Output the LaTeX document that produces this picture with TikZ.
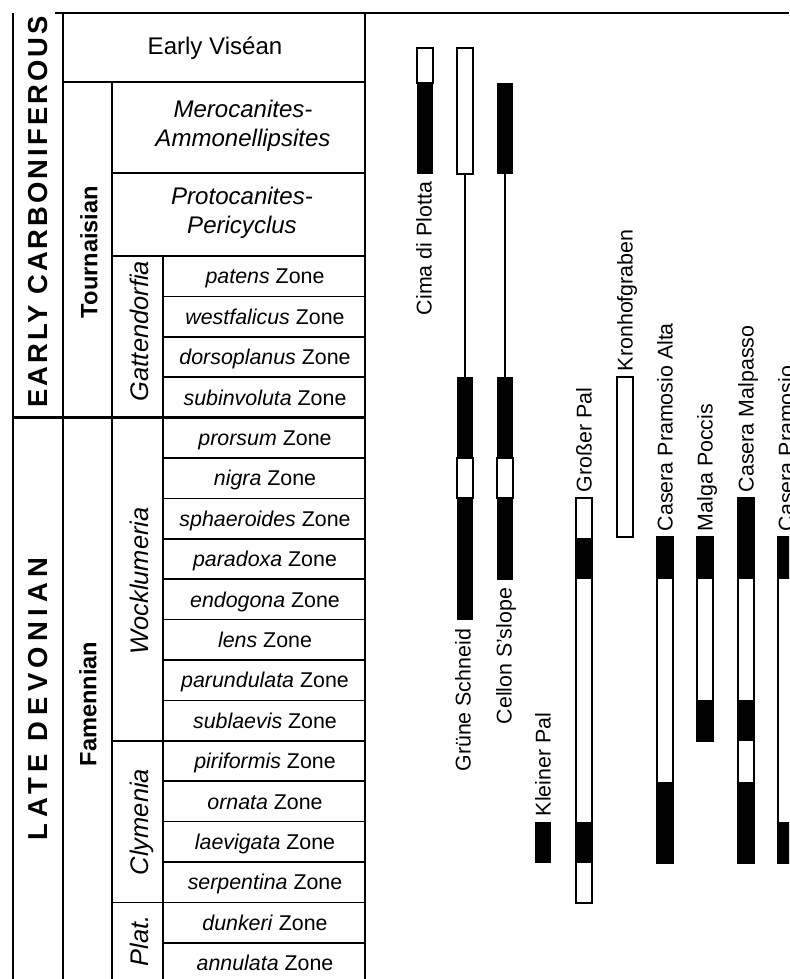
\documentclass[tikz,border=0pt]{standalone}
\usepackage{fontspec}
\setmainfont{Liberation Sans}
\usepackage{tikz}

\tikzset{
  tabline/.style={line width=1.1pt},
  boundline/.style={line width=1.6pt},
  whiteseg/.style={draw=black, fill=white, line width=0.9pt},
  blackseg/.style={fill=black},
  linkline/.style={line width=0.9pt}
}

\begin{document}
\begin{tikzpicture}[x=0.025cm, y=-0.025cm,
  every node/.style={inner sep=0pt, outer sep=0pt},
  zone/.style={font=\fontsize{15.2}{18}\selectfont, text height=10.9pt, text depth=0pt},
  toprow/.style={font=\fontsize{17.1}{20.5}\selectfont, align=center},
  stage/.style={rotate=90, font=\fontsize{16.8}{20}\selectfont\bfseries, text height=12pt, text depth=0pt},
  genus/.style={rotate=90, font=\fontsize{18.1}{21}\selectfont\itshape, text height=13pt, text depth=0pt},
  period/.style={rotate=90, font=\fontsize{19.5}{23}\selectfont\bfseries, text height=14pt, text depth=0pt},
  site/.style={rotate=90, font=\fontsize{15.2}{18}\selectfont, text height=10.9pt, text depth=0pt}]
\useasboundingbox (0,0) rectangle (789,979);
\clip (0,0) rectangle (789,979);

\node[period] (carb) at (38,212) {\addfontfeature{LetterSpace=11}EARLY CARBONIFEROUS};
\node[period] (devon) at (38,699) {\addfontfeature{LetterSpace=20}LATE DEVONIAN};
\node[stage] (tourn) at (89,252) {Tournaisian};
\node[stage] (famen) at (88,704) {Famennian};
\node[genus] (gatt) at (139,331) {Gattendorfia};
\node[genus] (wock) at (139,581) {Wocklumeria};
\node[genus] (clym) at (139,822) {Clymenia};
\node[genus] (plat) at (139,941) {Plat.};

\node[toprow] (visean) at (215,48) {Early Viséan};
\node[toprow, font=\fontsize{17.1}{20.5}\selectfont\itshape] (mero) at (243,126) {Merocanites-\\Ammonellipsites};
\node[toprow, font=\fontsize{17.1}{20.5}\selectfont\itshape] (proto) at (242,213) {Protocanites-\\Pericyclus};

\node[zone] (patens) at (265,276.2) {\textit{patens} Zone};
\node[zone] (westf) at (265,316.6) {\textit{westfalicus} Zone};
\node[zone] (dorso) at (265,357) {\textit{dorsoplanus} Zone};
\node[zone] (subinv) at (265,397.4) {\textit{subinvoluta} Zone};
\node[zone] (prorsum) at (265,437.8) {\textit{prorsum} Zone};
\node[zone] (nigra) at (265,478.2) {\textit{nigra} Zone};
\node[zone] (sphaer) at (265,518.6) {\textit{sphaeroides} Zone};
\node[zone] (parad) at (265,559) {\textit{paradoxa} Zone};
\node[zone] (endog) at (265,599.4) {\textit{endogona} Zone};
\node[zone] (lens) at (265,639.8) {\textit{lens} Zone};
\node[zone] (parund) at (265,680.2) {\textit{parundulata} Zone};
\node[zone] (sublae) at (265,720.6) {\textit{sublaevis} Zone};
\node[zone] (pirif) at (265,761) {\textit{piriformis} Zone};
\node[zone] (ornata) at (265,801.4) {\textit{ornata} Zone};
\node[zone] (laevig) at (265,841.8) {\textit{laevigata} Zone};
\node[zone] (serpent) at (265,882.2) {\textit{serpentina} Zone};
\node[zone] (dunkeri) at (265,922.6) {\textit{dunkeri} Zone};
\node[zone] (annul) at (265,963) {\textit{annulata} Zone};

\draw[tabline] (55,13) -- (789,13);
\draw[tabline] (13,13) -- (13,979);
\draw[tabline] (63,13) -- (63,979);
\draw[tabline] (112,82) -- (112,979);
\draw[tabline] (163,256) -- (163,979);
\draw[tabline] (365,13) -- (365,979);
\draw[tabline] (63,82) -- (365,82);
\draw[tabline] (112,173) -- (365,173);
\draw[tabline] (112,256) -- (365,256);
\draw[tabline] (163,296.4) -- (365,296.4);
\draw[tabline] (163,336.8) -- (365,336.8);
\draw[tabline] (163,377.2) -- (365,377.2);
\draw[boundline] (13,417.6) -- (365,417.6);
\draw[tabline] (163,458) -- (365,458);
\draw[tabline] (163,498.4) -- (365,498.4);
\draw[tabline] (163,538.8) -- (365,538.8);
\draw[tabline] (163,579.2) -- (365,579.2);
\draw[tabline] (163,619.6) -- (365,619.6);
\draw[tabline] (163,660) -- (365,660);
\draw[tabline] (163,700.4) -- (365,700.4);
\draw[tabline] (112,740.8) -- (365,740.8);
\draw[tabline] (163,781.2) -- (365,781.2);
\draw[tabline] (163,821.6) -- (365,821.6);
\draw[tabline] (163,862) -- (365,862);
\draw[tabline] (112,902.4) -- (365,902.4);
\draw[tabline] (163,942.8) -- (365,942.8);

\draw[whiteseg] (417,48) rectangle (433,83);
\fill[blackseg] (417,83) rectangle (433,174);

\draw[whiteseg] (457,48) rectangle (473,174);
\draw[linkline] (465,174) -- (465,377);
\fill[blackseg] (457,377) rectangle (473,458);
\draw[whiteseg] (457,458) rectangle (473,498);
\fill[blackseg] (457,498) rectangle (473,620);

\fill[blackseg] (497,83) rectangle (513,174);
\draw[linkline] (505,174) -- (505,377);
\fill[blackseg] (497,377) rectangle (513,458);
\draw[whiteseg] (497,458) rectangle (513,498);
\fill[blackseg] (497,498) rectangle (513,580);

\fill[blackseg] (535,822) rectangle (551,863);

\draw[whiteseg] (576,498) rectangle (592,903);
\fill[blackseg] (576,538) rectangle (592,579);
\fill[blackseg] (576,822) rectangle (592,863);

\draw[whiteseg] (617,377) rectangle (633,537);

\draw[whiteseg] (657,537) rectangle (673,863);
\fill[blackseg] (657,537) rectangle (673,579);
\fill[blackseg] (657,782) rectangle (673,863);

\draw[whiteseg] (697,537) rectangle (713,741);
\fill[blackseg] (697,537) rectangle (713,579);
\fill[blackseg] (697,700) rectangle (713,741);

\draw[whiteseg] (738,498) rectangle (754,863);
\fill[blackseg] (738,498) rectangle (754,579);
\fill[blackseg] (738,700) rectangle (754,741);
\fill[blackseg] (738,782) rectangle (754,863);

\draw[whiteseg] (778,537) rectangle (794,863);
\fill[blackseg] (778,537) rectangle (794,579);
\fill[blackseg] (778,822) rectangle (794,863);

\node[site, anchor=east] (cima) at (424,182) {Cima di Plotta};
\node[site, anchor=east] (gruene) at (463,629) {Grüne Schneid};
\node[site, anchor=east] (cellon) at (504,588) {Cellon S'slope};
\node[site, anchor=west] (kleiner) at (543,816) {Kleiner Pal};
\node[site, anchor=west] (grosser) at (584,492) {Großer Pal};
\node[site, anchor=west] (kronhof) at (625,371) {Kronhofgraben};
\node[site, anchor=west] (pramalta) at (665,531) {Casera Pramosio Alta};
\node[site, anchor=west] (poccis) at (705,531) {Malga Poccis};
\node[site, anchor=west] (malpasso) at (746,492) {Casera Malpasso};
\node[site, anchor=west] (pramosio) at (786,531) {Casera Pramosio};
\end{tikzpicture}
\end{document}
